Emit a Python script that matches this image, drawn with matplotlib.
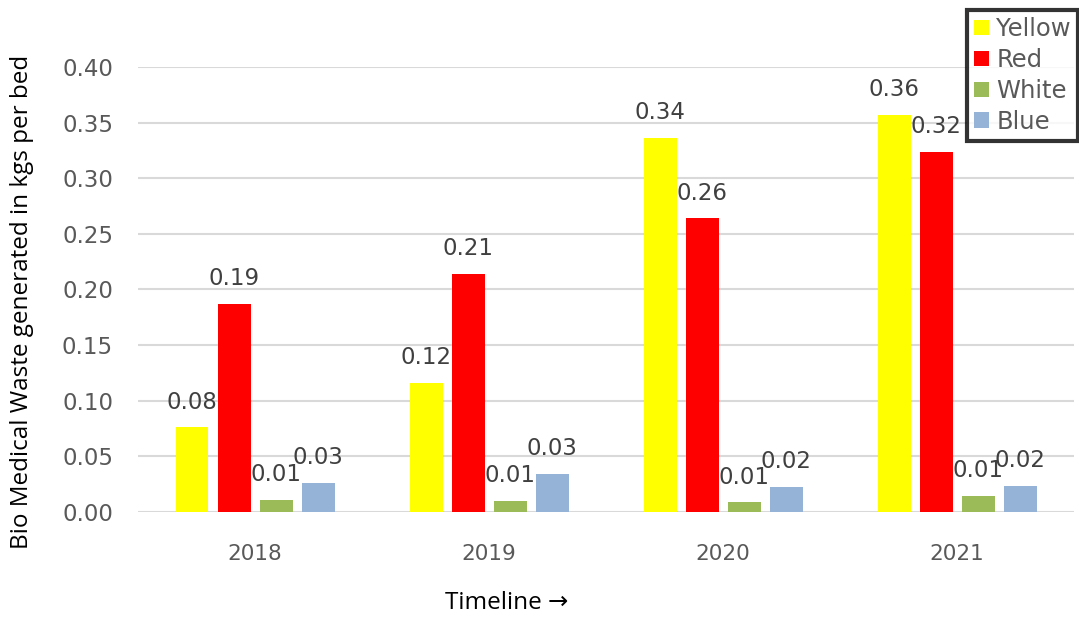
import matplotlib
matplotlib.use("Agg")
import matplotlib.pyplot as plt
import numpy as np

# Bio medical waste per bed (kg), by colour category and year
years = ["2018", "2019", "2020", "2021"]
categories = ["Yellow", "Red", "White", "Blue"]
yellow = [0.076, 0.116, 0.336, 0.357]
red = [0.187, 0.214, 0.264, 0.324]
white = [0.011, 0.0097, 0.0087, 0.0147]
blue = [0.0264, 0.0342, 0.0225, 0.0234]
yticks = [0.00, 0.05, 0.10, 0.15, 0.20, 0.25, 0.30, 0.35, 0.40]

series = [yellow, red, white, blue]
colors = ["#FFFF00", "#FF0000", "#9BBB59", "#95B3D7"]

fig = plt.figure(figsize=(10.79, 6.19), dpi=100)
ax = fig.add_axes([0.1279, 0.1729, 0.8675, 0.7189])

x = np.arange(len(years))
slot = 0.1795
width = 0.141
label_color = "#404040"

for i, (vals, col, name) in enumerate(zip(series, colors, categories)):
    pos = x + (i - 1.5) * slot
    ax.bar(pos, vals, width=width, color=col, label=name, zorder=3)
    for px, v in zip(pos, vals):
        ax.annotate(f"{v:.2f}", (px, v), xytext=(0, 13.5), textcoords="offset points",
                    ha="center", va="baseline", fontsize=16.5, color=label_color,
                    zorder=4)

ax.set_xlim(-0.5, 3.5)
ax.set_ylim(0, 0.40)
ax.set_yticks(yticks)
ax.set_yticklabels([f"{t:.2f}" for t in yticks])
ax.set_xticks(x)
ax.set_xticklabels(years)
ax.tick_params(axis="y", length=0, pad=18, labelsize=16.5, labelcolor="#595959")
ax.tick_params(axis="x", length=0, pad=23, labelsize=15.5, labelcolor="#595959")
ax.grid(axis="y", color="#D9D9D9", linewidth=1.5, zorder=0)
for s in ax.spines.values():
    s.set_visible(False)

fig.text(0.0204, 1 - 302 / 619, "Bio Medical Waste generated in kgs per bed",
         rotation=90, ha="center", va="center", fontsize=17.5,
         family=["Open Sans", "DejaVu Sans"], color="black")
fig.text(507 / 1079, 1 - 603 / 619, "Timeline \u2192", ha="center", va="center",
         fontsize=17.5, family=["Open Sans", "DejaVu Sans"], color="black")

leg = fig.legend(loc="upper left", bbox_to_anchor=(967 / 1079, 1 - 10 / 619),
                 frameon=True, fancybox=False, fontsize=17.5, handlelength=0.6,
                 handleheight=0.6, handletextpad=0.3, labelspacing=0.28,
                 borderpad=0.3, borderaxespad=0)
leg.get_frame().set_edgecolor("black")
leg.get_frame().set_linewidth(3)
for t in leg.get_texts():
    t.set_color("#595959")

fig.savefig("out.png", dpi=100)
